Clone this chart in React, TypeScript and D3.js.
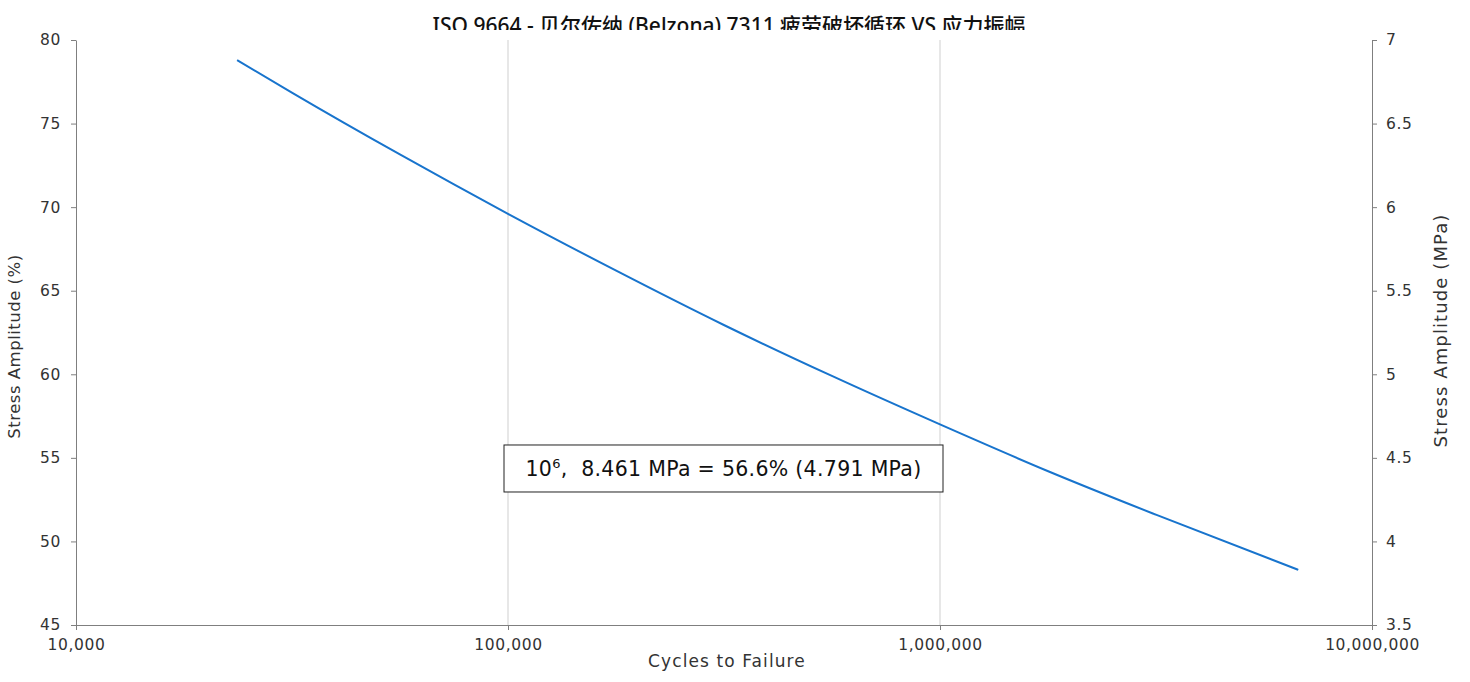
import React, { useEffect, useRef } from 'react';
import * as d3 from 'd3';

// cycles to failure vs stress amplitude (%)
const cycles = [23600, 31600, 56200, 100000, 178000, 316000, 562000, 1000000, 1780000, 3160000, 6750000];
const stressPct = [78.8, 76.85, 73.15, 69.6, 66.2, 62.95, 59.9, 57.0, 54.2, 51.6, 48.3];

const leftTicks = [45, 50, 55, 60, 65, 70, 75, 80];
const rightTicks = [3.5, 4, 4.5, 5, 5.5, 6, 6.5, 7];
const xTicks = [10000, 100000, 1000000, 10000000];

const title = 'ISO 9664 - 贝尔佐纳 (Belzona) 7311 疲劳破坏循环 VS 应力振幅';

const W = 1470;
const H = 682;
const FONT = '"DejaVu Sans", "Noto Sans CJK SC", sans-serif';
const TITLE_FONT = '"Noto Sans", "Noto Sans CJK SC", sans-serif';

export default function App() {
  const ref = useRef<SVGSVGElement>(null);

  useEffect(() => {
    const svg = d3.select(ref.current);
    svg.selectAll('*').remove();

    const margin = { top: 40, right: 98, bottom: 57, left: 76 };
    const width = W - margin.left - margin.right;
    const height = H - margin.top - margin.bottom;

    const x = d3.scaleLog().domain([10000, 10000000]).range([0, width]);
    const yL = d3.scaleLinear().domain([45, 80]).range([height, 0]);
    const yR = d3.scaleLinear().domain([3.5, 7]).range([height, 0]);

    // title, cut off at the bottom like the original
    svg.append('clipPath').attr('id', 'titleClip')
      .append('rect').attr('x', 0).attr('y', 0).attr('width', W).attr('height', 30);
    svg.append('text')
      .attr('clip-path', 'url(#titleClip)')
      .attr('x', margin.left + width / 2 + 5)
      .attr('y', 33)
      .attr('text-anchor', 'middle')
      .attr('font-family', TITLE_FONT)
      .attr('font-size', 21)
      .attr('font-weight', 500)
      .attr('fill', '#111')
      .text(title);

    const chart = svg.append('g')
      .attr('transform', `translate(${margin.left}, ${margin.top})`);

    // vertical grid lines
    chart.append('g')
      .selectAll('line')
      .data(xTicks.slice(1, -1))
      .enter()
      .append('line')
      .attr('x1', (d) => x(d))
      .attr('x2', (d) => x(d))
      .attr('y1', 0)
      .attr('y2', height)
      .attr('stroke', '#cfcfcf')
      .attr('stroke-width', 1);

    const styleAxis = (g: any) => {
      g.selectAll('path').attr('stroke', '#7f7f7f');
      g.selectAll('line').attr('stroke', '#7f7f7f');
      g.selectAll('text')
        .attr('font-family', FONT)
        .attr('font-size', 15.5)
        .attr('letter-spacing', 0.6)
        .attr('fill', '#333');
    };

    chart.append('g')
      .attr('transform', `translate(0, ${height})`)
      .call(d3.axisBottom(x).tickValues(xTicks).tickFormat(d3.format(',')).tickSize(5).tickSizeOuter(0).tickPadding(9))
      .call(styleAxis);

    chart.append('g')
      .call(d3.axisLeft(yL).tickValues(leftTicks).tickSize(5).tickSizeOuter(0).tickPadding(10))
      .call(styleAxis);

    chart.append('g')
      .attr('transform', `translate(${width}, 0)`)
      .call(d3.axisRight(yR).tickValues(rightTicks).tickFormat(d3.format('')).tickSize(5).tickSizeOuter(0).tickPadding(9))
      .call(styleAxis);

    const line = d3.line<number>()
      .x((d, i) => x(cycles[i]))
      .y((d) => yL(d))
      .curve(d3.curveMonotoneX);

    chart.append('path')
      .datum(stressPct)
      .attr('d', line)
      .attr('fill', 'none')
      .attr('stroke', '#1874cd')
      .attr('stroke-width', 2);

    // annotation box
    const ann = chart.append('g')
      .attr('transform', `translate(${x(100000) - 4}, ${yL(55.77)})`);
    ann.append('rect')
      .attr('width', 439)
      .attr('height', 47)
      .attr('fill', '#fff')
      .attr('stroke', '#222')
      .attr('stroke-width', 1);
    const t = ann.append('text')
      .attr('x', 219.5)
      .attr('y', 31)
      .attr('text-anchor', 'middle')
      .attr('font-family', FONT)
      .attr('font-size', 20.5)
      .attr('letter-spacing', 0.3)
      .attr('fill', '#111');
    t.append('tspan').text('10');
    t.append('tspan').attr('font-size', 13).attr('dy', -8).text('6');
    t.append('tspan').attr('dy', 8).text(',\u00a0\u00a08.461 MPa = 56.6% (4.791 MPa)');

    // axis titles
    svg.append('text')
      .attr('x', margin.left + width / 2 + 3)
      .attr('y', 667)
      .attr('text-anchor', 'middle')
      .attr('font-family', FONT)
      .attr('font-size', 17)
      .attr('letter-spacing', 1.1)
      .attr('fill', '#333')
      .text('Cycles to Failure');

    svg.append('text')
      .attr('transform', `translate(20, ${margin.top + height / 2 + 14}) rotate(-90)`)
      .attr('text-anchor', 'middle')
      .attr('font-family', FONT)
      .attr('font-size', 16.5)
      .attr('letter-spacing', 0.5)
      .attr('fill', '#333')
      .text('Stress Amplitude (%)');

    svg.append('text')
      .attr('transform', `translate(1447, ${margin.top + height / 2 - 2}) rotate(-90)`)
      .attr('text-anchor', 'middle')
      .attr('font-family', FONT)
      .attr('font-size', 18)
      .attr('letter-spacing', 1.1)
      .attr('fill', '#333')
      .text('Stress Amplitude (MPa)');
  }, []);

  return (
    <svg
      ref={ref}
      width={W}
      height={H}
      viewBox={`0 0 ${W} ${H}`}
      style={{ position: 'absolute', left: 0, top: 0, background: '#fff' }}
    />
  );
}
